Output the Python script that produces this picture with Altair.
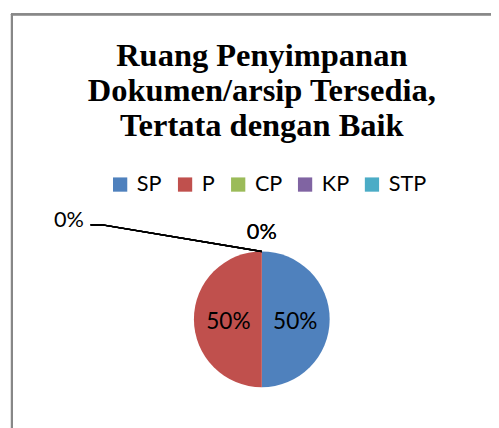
import altair as alt
import pandas as pd

categories = ["SP", "P", "CP", "KP", "STP"]
values = [50, 50, 0, 0, 0]
colors = ["#4F81BD", "#C0504D", "#9BBB59", "#8064A2", "#4BACC6"]
title_lines = ["Ruang Penyimpanan", "Dokumen/arsip Tersedia,", "Tertata dengan Baik"]

df = pd.DataFrame({"kategori": categories, "nilai": values, "urut": list(range(len(categories)))})
df["label"] = [f"{v}%" for v in values]

CX, CY, R = 258, 313, 69
SANS = "Lato"

base = alt.Chart(df).encode(
    theta=alt.Theta("nilai:Q", stack=True),
    order=alt.Order("urut:Q"),
    x=alt.value(CX),
    y=alt.value(CY),
)

color = alt.Color(
    "kategori:N",
    scale=alt.Scale(domain=categories, range=colors),
    sort=categories,
    legend=alt.Legend(
        title=None,
        orient="none",
        direction="horizontal",
        legendX=103,
        legendY=165,
        symbolType="square",
        symbolSize=210,
        symbolStrokeWidth=0,
        labelFont=SANS,
        labelFontSize=22,
        labelColor="#000000",
        labelOffset=6,
        columnPadding=12,
    ),
)

pie = base.mark_arc(radius=R, stroke=None).encode(color=color)

big = base.transform_filter("datum.nilai > 0").mark_text(
    radius=34, font=SANS, fontSize=23, color="#000000", baseline="middle", align="center", dy=3
).encode(text="label:N")

top0 = base.transform_filter("datum.nilai == 0 && datum.kategori != 'STP'").mark_text(
    radius=89, font=SANS, fontSize=22, color="#000000", baseline="middle", align="center"
).encode(text="label:N")

left0 = base.transform_filter("datum.kategori == 'STP'").mark_text(
    radius=89, font=SANS, fontSize=22, color="#000000", baseline="middle", align="center", dx=-196, dy=-12
).encode(text="label:N")

leader = alt.Chart(df).mark_rule(color="#000000", strokeWidth=1.5).encode(
    x=alt.value(CX), y=alt.value(CY - R), x2=alt.value(96), y2=alt.value(217)
)
leader2 = alt.Chart(df).mark_rule(color="#000000", strokeWidth=1.5).encode(
    x=alt.value(96), y=alt.value(217), x2=alt.value(84), y2=alt.value(217)
)

border_left = alt.Chart(df).mark_rule(color="#888888", strokeWidth=2).encode(
    x=alt.value(4), y=alt.value(2), x2=alt.value(4), y2=alt.value(430)
)
border_top = alt.Chart(df).mark_rule(color="#888888", strokeWidth=2).encode(
    x=alt.value(3), y=alt.value(3), x2=alt.value(500), y2=alt.value(3)
)

title = alt.Chart(pd.DataFrame({"t": [title_lines]})).mark_text(
    font="Liberation Serif", fontSize=33, fontWeight="bold", color="#000000",
    align="center", baseline="alphabetic", lineHeight=36
).encode(text="t", x=alt.value(CX), y=alt.value(55))

chart = alt.layer(
    border_left, border_top, title, pie, big, top0, left0, leader, leader2
).properties(
    width=491, height=420,
    autosize=alt.AutoSizeParams(type="fit", contains="padding"),
    padding=0,
    background="#ffffff",
).configure_view(stroke=None)

chart.save("out.html", embed_options={"renderer": "svg", "actions": False})
